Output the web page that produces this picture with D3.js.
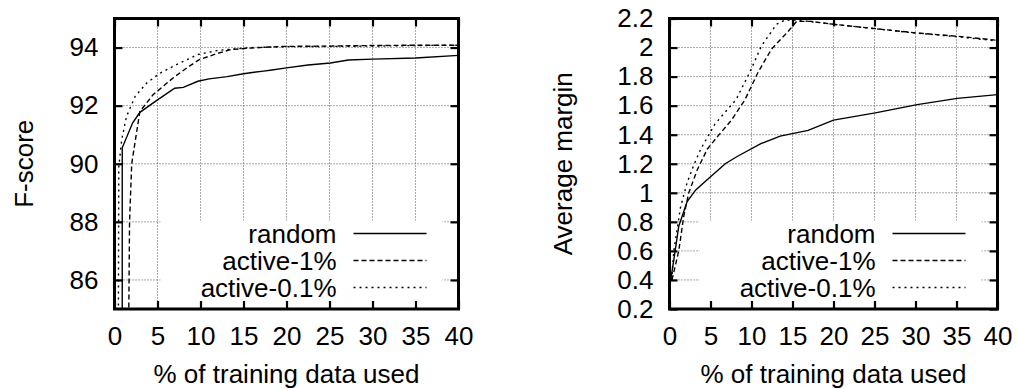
<!DOCTYPE html>
<html>
<head>
<meta charset="utf-8">
<script src="https://cdn.jsdelivr.net/npm/d3@7"></script>
<style>
  body { margin: 0; background: #fff; }
  text { font-family: "Liberation Sans", Arial, Helvetica, sans-serif; font-size: 26px; fill: #000; }
</style>
</head>
<body>
<svg id="chart" width="1017" height="389"></svg>
<script>
// x axis: % of training data used (shared by both panels)
const pctTicks = [0, 5, 10, 15, 20, 25, 30, 35, 40]
const fscoreTicks = [86, 88, 90, 92, 94]
const marginTicks = [0.2, 0.4, 0.6, 0.8, 1, 1.2, 1.4, 1.6, 1.8, 2, 2.2]
const seriesNames = ["random", "active-1%", "active-0.1%"]

// left panel, F-score  ([% data, value]; first points fall below the axis)
const fRandom = [[0.9, 84.5], [0.9, 90.55], [2.1, 91.4], [2.95, 91.77], [5, 92.2], [7, 92.6], [8, 92.63],
  [9.7, 92.84], [11, 92.92], [13.1, 93.0], [15, 93.1], [17.3, 93.19], [18.1, 93.22], [20, 93.3],
  [22.5, 93.4], [25.1, 93.47], [27.2, 93.57], [30, 93.6], [35, 93.64], [40, 93.73]]
const fActive1 = [[1.65, 84.5], [1.75, 88], [2.0, 90.0], [2.95, 91.8], [4.5, 92.38], [7, 93.0], [8.8, 93.38],
  [9.9, 93.59], [12, 93.8], [13.5, 93.93], [15.8, 93.98], [18, 94.02], [20, 94.04], [25, 94.05],
  [30, 94.07], [35, 94.08], [40, 94.08]]
const fActive01 = [[0.45, 84.5], [0.5, 89.9], [0.84, 90.83], [1.4, 91.63], [2.4, 92.32], [3.75, 92.78],
  [5.3, 93.12], [7.2, 93.41], [9.7, 93.76], [12, 93.9], [13.8, 93.95], [16, 94.0], [20, 94.03],
  [25, 94.04], [30, 94.05], [35, 94.07], [40, 94.08]]

// right panel, average margin
const mRandom = [[0.12, 0.39], [0.53, 0.54], [1.13, 0.77], [2.15, 0.94], [3.2, 1.02], [4.8, 1.1], [6.8, 1.2],
  [8.25, 1.25], [11.2, 1.34], [13.5, 1.39], [16.9, 1.43], [20, 1.5], [25.1, 1.55], [30.2, 1.607],
  [35.1, 1.65], [40, 1.676]]
const mActive1 = [[0.3, 0.4], [1.13, 0.6], [1.74, 0.84], [2.35, 1.0], [3.4, 1.16], [4.6, 1.3], [5.9, 1.39],
  [7.55, 1.5], [9.2, 1.64], [10.8, 1.83], [12.45, 1.99], [14.45, 2.11], [15.5, 2.18], [17.3, 2.18],
  [20, 2.16], [25.1, 2.13], [30.2, 2.1], [35.1, 2.078], [40, 2.05]]
const mActive01 = [[0.25, 0.4], [0.53, 0.6], [1.34, 0.9], [2.15, 1.07], [2.96, 1.19], [3.8, 1.3], [5.5, 1.47],
  [6.7, 1.55], [8.1, 1.64], [9.8, 1.83], [11.2, 2.01], [13.05, 2.16], [14.1, 2.19], [15.1, 2.19],
  [17, 2.18], [20, 2.16], [25, 2.13], [30, 2.1], [35, 2.075], [40, 2.045]]

const dashes = ["none", "5,3", "2,4"]

let svg = d3.select("#chart")

let drawPanel = function(opt) {
  let { left, right, yDomain, yTicks, series, title, titleX, id } = opt
  let top = 18.5, bottom = 309

  const x = d3.scaleLinear().domain([0, 40]).range([left, right])
  const y = d3.scaleLinear().domain(yDomain).range([bottom, top])

  let g = svg.append("g")

  g.append("clipPath").attr("id", id)
    .append("rect")
    .attr("x", left).attr("y", top)
    .attr("width", right - left).attr("height", bottom - top)

  // dotted grid
  g.selectAll(".vgrid")
    .data(pctTicks.filter(d => d > 0 && d < 40))
    .enter().append("line")
    .attr("x1", d => x(d)).attr("x2", d => x(d))
    .attr("y1", top).attr("y2", bottom)
    .attr("stroke", "#555").attr("stroke-width", 1).attr("stroke-dasharray", "1,2")
  g.selectAll(".hgrid")
    .data(yTicks.filter(d => d > yDomain[0] && d < yDomain[1]))
    .enter().append("line")
    .attr("x1", left).attr("x2", right)
    .attr("y1", d => y(d)).attr("y2", d => y(d))
    .attr("stroke", "#555").attr("stroke-width", 1).attr("stroke-dasharray", "1,2")

  // legend box blanks out the grid behind it
  let keyRight = right - 16, keyLeft = keyRight - 282
  g.append("rect")
    .attr("x", keyLeft).attr("y", 220.5)
    .attr("width", keyRight - keyLeft).attr("height", bottom - 220.5)
    .attr("fill", "#fff")

  const line = d3.line().x(d => x(d[0])).y(d => y(d[1]))

  g.append("g").attr("clip-path", "url(#" + id + ")")
    .selectAll("path")
    .data(series)
    .enter().append("path")
    .attr("d", d => line(d))
    .attr("fill", "none")
    .attr("stroke", "#000")
    .attr("stroke-width", 1.4)
    .attr("stroke-dasharray", (d, i) => dashes[i])

  // legend
  let rows = [233.5, 260.5, 287.5]
  seriesNames.forEach(function(name, i) {
    g.append("text")
      .attr("x", keyRight - 106).attr("y", rows[i] + 9)
      .attr("text-anchor", "end")
      .text(name)
    g.append("line")
      .attr("x1", keyRight - 89).attr("x2", keyRight - 16)
      .attr("y1", rows[i]).attr("y2", rows[i])
      .attr("stroke", "#000").attr("stroke-width", 1.4)
      .attr("stroke-dasharray", dashes[i])
  })

  // axes, ticks pointing inwards on all four sides
  let ax = g.append("g").attr("transform", "translate(0," + bottom + ")")
    .call(d3.axisBottom(x).tickValues(pctTicks).tickSize(-8).tickPadding(17.5))
  let axTop = g.append("g").attr("transform", "translate(0," + top + ")")
    .call(d3.axisTop(x).tickValues(pctTicks).tickSize(-8).tickFormat(""))
  let ay = g.append("g").attr("transform", "translate(" + left + ",0)")
    .call(d3.axisLeft(y).tickValues(yTicks).tickSize(-8).tickPadding(16).tickFormat(d => String(d)))
  let ayRight = g.append("g").attr("transform", "translate(" + right + ",0)")
    .call(d3.axisRight(y).tickValues(yTicks).tickSize(-8).tickFormat(""))

  ;[ax, axTop, ay, ayRight].forEach(function(a) {
    a.select(".domain").remove()
    a.selectAll("line").attr("stroke", "#000").attr("stroke-width", 2.2)
    a.selectAll("text").attr("font-family", null).attr("font-size", null).attr("fill", "#000")
  })

  g.append("rect")
    .attr("x", left).attr("y", top)
    .attr("width", right - left).attr("height", bottom - top)
    .attr("fill", "none").attr("stroke", "#000").attr("stroke-width", 3)

  g.append("text")
    .attr("x", (left + right) / 2).attr("y", 383)
    .attr("text-anchor", "middle")
    .text("% of training data used")

  g.append("text")
    .attr("transform", "translate(" + titleX + "," + ((top + bottom) / 2) + ") rotate(-90)")
    .attr("text-anchor", "middle")
    .text(title)
}

drawPanel({
  id: "clipF", left: 114.5, right: 458.5, yDomain: [85, 95], yTicks: fscoreTicks,
  series: [fRandom, fActive1, fActive01], title: "F-score", titleX: 32.5
})
drawPanel({
  id: "clipM", left: 669.5, right: 997.5, yDomain: [0.2, 2.2], yTicks: marginTicks,
  series: [mRandom, mActive1, mActive01], title: "Average margin", titleX: 571.5
})
</script>
</body>
</html>
